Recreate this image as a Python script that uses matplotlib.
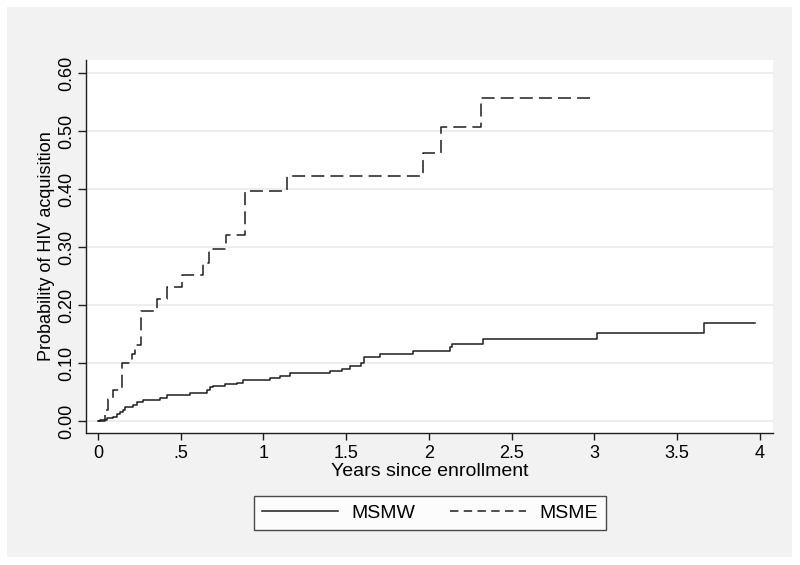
import matplotlib.pyplot as plt
from matplotlib.lines import Line2D

# Kaplan-Meier style cumulative probability of HIV acquisition
msmw_years = [0, 0.012, 0.052, 0.093, 0.113, 0.133, 0.153, 0.163, 0.214, 0.234, 0.274,
              0.375, 0.415, 0.556, 0.657, 0.677, 0.697, 0.768, 0.838, 0.879, 1.04, 1.10,
              1.161, 1.403, 1.477, 1.524, 1.588, 1.608, 1.705, 1.906, 2.128, 2.14, 2.33,
              3.015, 3.666, 3.972]
msmw_prob = [0, 0.003, 0.005, 0.008, 0.0125, 0.0155, 0.0195, 0.024, 0.028, 0.034, 0.037,
             0.040, 0.045, 0.049, 0.054, 0.059, 0.061, 0.064, 0.067, 0.071, 0.074, 0.078,
             0.083, 0.087, 0.091, 0.096, 0.100, 0.111, 0.116, 0.121, 0.128, 0.134, 0.142,
             0.153, 0.170, 0.170]

msme_years = [0, 0.04, 0.062, 0.09, 0.145, 0.203, 0.225, 0.26, 0.355, 0.42, 0.51, 0.637,
              0.673, 0.774, 0.889, 1.145, 1.967, 2.072, 2.316, 2.995]
msme_prob = [0, 0.019, 0.038, 0.054, 0.101, 0.117, 0.131, 0.19, 0.211, 0.232, 0.253, 0.273,
             0.297, 0.322, 0.397, 0.423, 0.463, 0.507, 0.557, 0.557]

x_ticks = [0, 0.5, 1, 1.5, 2, 2.5, 3, 3.5, 4]
x_tick_labels = ['0', '.5', '1', '1.5', '2', '2.5', '3', '3.5', '4']
y_ticks = [0, 0.1, 0.2, 0.3, 0.4, 0.5, 0.6]
y_tick_labels = ['0.00', '0.10', '0.20', '0.30', '0.40', '0.50', '0.60']

plt.rcParams['font.family'] = ['Liberation Sans', 'DejaVu Sans']

line_col = '#1e1e1e'
bg_col = '#f2f2f2'

fig = plt.figure(figsize=(8, 5.65), dpi=100)
fig.patch.set_facecolor('white')

# grey graph region with a thin white margin around it
fig.patches.append(plt.Rectangle((7 / 800, 8 / 565), 785 / 800, 550 / 565,
                                 transform=fig.transFigure, facecolor=bg_col,
                                 edgecolor='none', zorder=0))

ax = fig.add_axes([86 / 800, 132 / 565, 687 / 800, 373 / 565])
ax.set_zorder(2)
ax.set_facecolor('white')

# the two curves
ax.step(msmw_years, msmw_prob, where='post', color=line_col, lw=1.1)
ax.step(msme_years, msme_prob, where='post', color=line_col, lw=1.1,
        dashes=(8.5, 4))

ax.set_xlim(-0.0726, 4.081)
ax.set_ylim(-0.020, 0.623)

ax.set_xticks(x_ticks)
ax.set_xticklabels(x_tick_labels, fontsize=13)
ax.set_yticks(y_ticks)
ax.set_yticklabels(y_tick_labels, fontsize=13, rotation=90, va='center')

ax.grid(axis='y', color='#e8e8e8', lw=1.1)
ax.set_axisbelow(True)

for side in ['top', 'right']:
    ax.spines[side].set_visible(False)
for side in ['left', 'bottom']:
    ax.spines[side].set_color(line_col)
    ax.spines[side].set_linewidth(1.0)

ax.tick_params(axis='x', direction='out', length=5, width=1, color=line_col, pad=4)
ax.tick_params(axis='y', direction='out', length=5.8, width=1, color=line_col, pad=1.6)

ax.set_xlabel('Years since enrollment', fontsize=14, labelpad=0.5)
ax.set_ylabel('Probability of HIV acquisition', fontsize=13, labelpad=3)

# legend under the plot, framed box
handles = [Line2D([0], [0], color=line_col, lw=1.1),
           Line2D([0], [0], color=line_col, lw=1.1, dashes=(5.5, 3.5))]
leg = fig.legend(handles, ['MSMW', 'MSME'], loc='center',
                 bbox_to_anchor=(430 / 800, 1 - 513 / 565), ncol=2,
                 fontsize=14, handlelength=3.9, handletextpad=0.7,
                 columnspacing=1.8, frameon=True, fancybox=False, borderpad=0.4)
leg.set_zorder(3)
leg.get_frame().set_edgecolor(line_col)
leg.get_frame().set_linewidth(1.0)

fig.savefig('out.png', dpi=100, facecolor=fig.get_facecolor())
